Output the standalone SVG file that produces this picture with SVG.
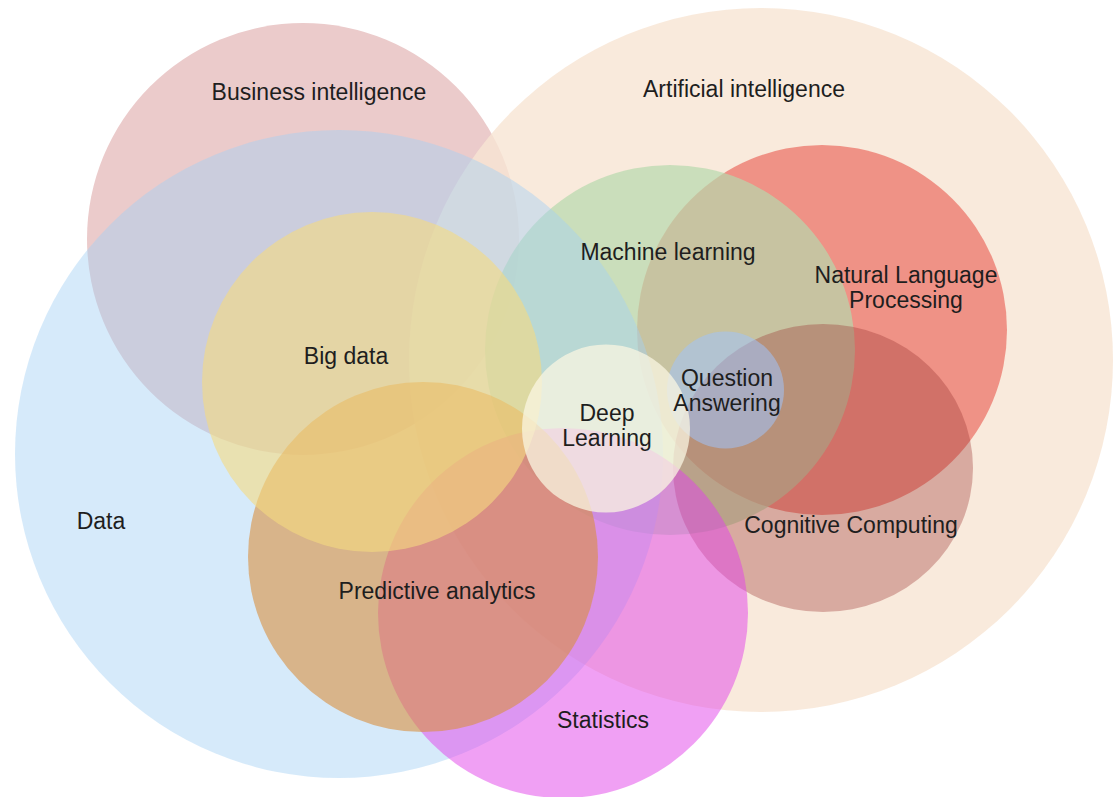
<svg xmlns="http://www.w3.org/2000/svg" width="1113" height="797" viewBox="0 0 1113 797">
<style>
text{font-family:"Liberation Sans",Arial,sans-serif;font-size:23px;fill:#1e1e1e;text-anchor:middle}
</style>
<rect width="1113" height="797" fill="#ffffff"/>
<g id="circles">
<g id="business-intelligence"><circle cx="303" cy="239" r="216" fill="#ebcbcb"/></g>
<g id="artificial-intelligence"><circle cx="761" cy="360" r="352" fill="#f8e5d3" fill-opacity="0.8"/></g>
<g id="natural-language-processing"><circle cx="822" cy="330" r="185" fill="#eb6c61" fill-opacity="0.7"/></g>
<g id="machine-learning"><circle cx="670" cy="350" r="185" fill="#b7d9ad" fill-opacity="0.7"/></g>
<g id="cognitive-computing"><ellipse cx="823" cy="468" rx="150" ry="144" fill="#9b3331" fill-opacity="0.35"/></g>
<g id="question-answering"><circle cx="725.5" cy="390" r="58.5" fill="#a0c3fa" fill-opacity="0.55"/></g>
<g id="data"><circle cx="339" cy="454" r="324" fill="#a4d1f4" fill-opacity="0.45"/></g>
<g id="statistics"><circle cx="563" cy="613" r="185" fill="#e141e9" fill-opacity="0.5"/></g>
<g id="predictive-analytics"><circle cx="423" cy="557" r="175" fill="#d9903f" fill-opacity="0.6"/></g>
<g id="big-data"><circle cx="372" cy="382" r="170" fill="#f5db81" fill-opacity="0.6"/></g>
<g id="deep-learning"><circle cx="606" cy="428.5" r="84" fill="#faf5e1" fill-opacity="0.75"/></g>
</g>
<g id="labels">
<text x="319" y="100">Business intelligence</text>
<text x="744" y="97">Artificial intelligence</text>
<text x="906" y="283">Natural Language</text>
<text x="906" y="308">Processing</text>
<text x="668" y="260">Machine learning</text>
<text x="851" y="533">Cognitive Computing</text>
<text x="727" y="386">Question</text>
<text x="727" y="411">Answering</text>
<text x="101" y="529">Data</text>
<text x="603" y="728">Statistics</text>
<text x="437" y="599">Predictive analytics</text>
<text x="346" y="364">Big data</text>
<text x="607" y="421">Deep</text>
<text x="607" y="446">Learning</text>
</g>
</svg>
